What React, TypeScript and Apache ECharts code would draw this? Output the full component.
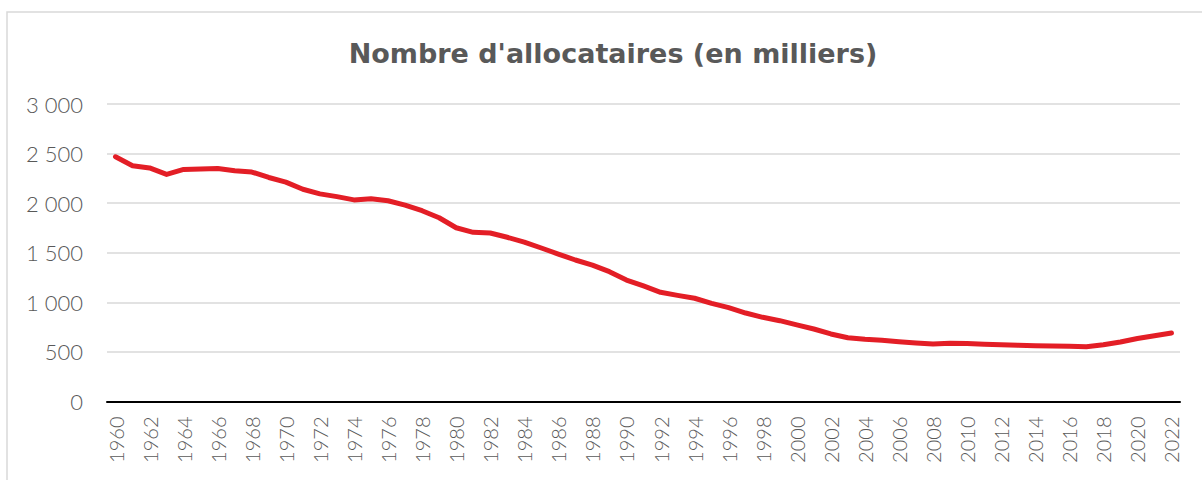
import React, { useEffect, useRef } from "react";
import * as echarts from "echarts";

const years: string[] = [];
for (let y = 1960; y <= 2022; y++) years.push(String(y));

const allocataires = [
  2468, 2378, 2355, 2290, 2340, 2345, 2350, 2327, 2314, 2259,
  2212, 2140, 2094, 2066, 2033, 2045, 2024, 1981, 1924, 1853,
  1752, 1706, 1699, 1656, 1608, 1548, 1487, 1427, 1376, 1309,
  1225, 1165, 1101, 1070, 1041, 990, 946, 892, 849, 815,
  772, 731, 681, 643, 627, 617, 603, 590, 580, 588,
  585, 578, 572, 566, 561, 559, 556, 553, 572, 600,
  635, 663, 690,
];

const yTicks = [0, 500, 1000, 1500, 2000, 2500, 3000];

export default function App() {
  const ref = useRef<HTMLDivElement>(null);
  useEffect(() => {
    document.body.style.margin = "0";
    if (!ref.current) return;
    const chart = echarts.init(ref.current, undefined, { renderer: "svg" });
    chart.setOption({
      animation: false,
      backgroundColor: "#ffffff",
      title: {
        text: "Nombre d'allocataires (en milliers)",
        left: 608,
        textAlign: "center",
        top: 35,
        textStyle: {
          fontFamily: "DejaVu Sans",
          fontWeight: "bold",
          fontSize: 27,
          color: "#595959",
        },
      },
      graphic: [
        {
          type: "rect",
          shape: { x: 7, y: 12, width: 1300, height: 600 },
          style: { fill: "none", stroke: "#d9d9d9", lineWidth: 1.5 },
          silent: true,
        },
      ],
      grid: { left: 107, right: 22, top: 104, bottom: 78.5 },
      xAxis: {
        type: "category",
        data: years,
        boundaryGap: true,
        axisTick: { show: false },
        axisLine: { lineStyle: { color: "#000000", width: 2 } },
        axisLabel: {
          rotate: 90,
          interval: 1,
          fontSize: 20,
          fontFamily: "Lato",
          fontWeight: 300,
          color: "#595959",
          margin: 15,
        },
      },
      yAxis: {
        type: "value",
        min: 0,
        max: 3000,
        interval: 500,
        axisLine: { show: false },
        axisTick: { show: false },
        splitLine: { lineStyle: { color: "#d9d9d9", width: 1.5 } },
        axisLabel: {
          fontSize: 22,
          fontFamily: "Lato",
          fontWeight: 300,
          color: "#595959",
          margin: 24,
          formatter: (v: number) =>
            yTicks.includes(v) ? String(v).replace(/\B(?=(\d{3})+(?!\d))/g, " ") : "",
        },
      },
      series: [
        {
          type: "line",
          data: allocataires,
          showSymbol: false,
          symbol: "none",
          lineStyle: { color: "#e31e26", width: 5, cap: "round", join: "round" },
        },
      ],
    });
    return () => chart.dispose();
  }, []);
  return <div ref={ref} style={{ width: 1202, height: 480 }} />;
}
